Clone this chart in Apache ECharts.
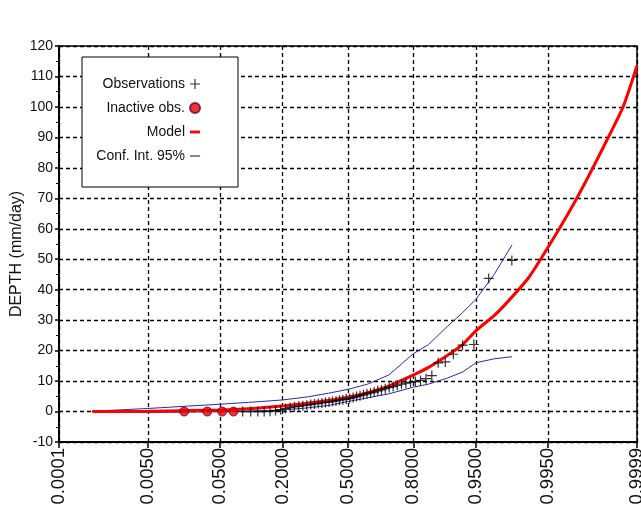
<!DOCTYPE html>
<html><head><meta charset="utf-8">
<script src="https://cdn.jsdelivr.net/npm/echarts@6/dist/echarts.min.js"></script>
<style>html,body{margin:0;padding:0;background:#fff}#c{width:641px;height:513px}</style>
</head><body><div id="c"></div>
<script>
// ---- data ----
const tickProbs  = [0.0001, 0.005, 0.05, 0.2, 0.5, 0.8, 0.95, 0.995, 0.9999];
const tickLabels = ['0.0001','0.0050','0.0500','0.2000','0.5000','0.8000','0.9500','0.9950','0.9999'];

const inactiveProb  = [0.0175, 0.0351, 0.0526, 0.0702];
const inactiveDepth = [0, 0, 0, 0];

const obsProb = [0.0877,0.1053,0.1228,0.1404,0.1579,0.1754,0.1930,0.2105,0.2281,0.2456,
                 0.2632,0.2807,0.2982,0.3158,0.3333,0.3509,0.3684,0.3860,0.4035,0.4211,
                 0.4386,0.4561,0.4737,0.4912,0.5088,0.5263,0.5439,0.5614,0.5789,0.5965,
                 0.6140,0.6316,0.6491,0.6667,0.6842,0.7018,0.7193,0.7368,0.7544,0.7719,
                 0.7895,0.8070,0.8246,0.8421,0.8596,0.8772,0.8947,0.9123,0.9298,0.9474,
                 0.9649,0.9825];
const obsDepth = [0.0,0.0,0.0,0.0,0.1,0.3,0.6,1.0,1.3,1.5,
                  1.7,1.9,2.1,2.3,2.5,2.6,2.8,3.0,3.1,3.3,
                  3.5,3.7,3.9,4.1,4.3,4.6,4.9,5.2,5.5,5.8,
                  6.1,6.4,6.8,7.1,7.5,7.9,8.2,8.6,9.0,9.3,
                  9.6,9.9,10.2,10.8,11.8,16.0,16.3,18.8,21.8,22.0,
                  43.7,49.6];

const modelProb  = [0.0005,0.005,0.02,0.05,0.1,0.2,0.3,0.4,0.5,0.6,0.7,0.8,0.85,0.9,0.93,0.95,0.97,0.98,0.99,0.995,0.998,0.999,0.9995,0.9998,0.9999];
const modelDepth = [0.0,0.1,0.3,0.5,0.9,1.8,2.7,3.6,4.7,6.2,8.3,12.0,14.5,18.5,22.0,26.5,31.5,36.0,44.0,54.0,67.0,77.0,87.0,100.0,113.5];

const ciProb  = [0.0005,0.005,0.02,0.05,0.1,0.2,0.3,0.4,0.5,0.6,0.7,0.8,0.85,0.9,0.93,0.95,0.97,0.9826];
const ciUpper = [0.1,1.0,1.8,2.4,3.0,3.8,4.8,6.0,7.3,9.0,12.0,19.0,22.0,28.0,32.5,36.8,45.0,54.7];
const ciLower = [0.0,-0.3,-0.2,0.0,0.2,0.5,1.2,2.0,3.3,4.5,5.8,8.0,9.0,11.0,13.0,16.0,17.3,18.0];

// ---- normal probability scale (axis transform) ----
function probit(p){
  const a=[-3.969683028665376e+01,2.209460984245205e+02,-2.759285104469687e+02,1.383577518672690e+02,-3.066479806614716e+01,2.506628277459239e+00];
  const b=[-5.447609879822406e+01,1.615858368580409e+02,-1.556989798598866e+02,6.680131188771972e+01,-1.328068155288572e+01];
  const c=[-7.784894002430293e-03,-3.223964580411365e-01,-2.400758277161838e+00,-2.549732539343734e+00,4.374664141464968e+00,2.938163982698783e+00];
  const d=[7.784695709041462e-03,3.224671290700398e-01,2.445134137142996e+00,3.754408661907416e+00];
  const pl=0.02425;
  let q,r;
  if(p<pl){q=Math.sqrt(-2*Math.log(p));return (((((c[0]*q+c[1])*q+c[2])*q+c[3])*q+c[4])*q+c[5])/((((d[0]*q+d[1])*q+d[2])*q+d[3])*q+1);}
  if(p<=1-pl){q=p-0.5;r=q*q;return (((((a[0]*r+a[1])*r+a[2])*r+a[3])*r+a[4])*r+a[5])*q/(((((b[0]*r+b[1])*r+b[2])*r+b[3])*r+b[4])*r+1);}
  q=Math.sqrt(-2*Math.log(1-p));return -(((((c[0]*q+c[1])*q+c[2])*q+c[3])*q+c[4])*q+c[5])/((((d[0]*q+d[1])*q+d[2])*q+d[3])*q+1);
}
const pairs=(ps,vs)=>ps.map((p,i)=>[probit(p),vs[i]]);
const tickZ = tickProbs.map(probit);
function labelFor(v){
  let best=0,bd=Infinity;
  tickZ.forEach((z,i)=>{const dd=Math.abs(z-v); if(dd<bd){bd=dd;best=i;}});
  return tickLabels[best];
}

const FONT='Liberation Sans, Arial, sans-serif';
const plusIcon='path://M4.4,0H5.6V4.4H10V5.6H5.6V10H4.4V5.6H0V4.4H4.4Z';
const modelIcon='path://M0,0M0,3.6H10V6.4H0ZM10,10';
const ciIcon='path://M0,0M0,4.4H10V5.6H0ZM10,10';
const dash={type:[4,3],color:'#000',width:1.3};

const chart=echarts.init(document.getElementById('c'),null,{renderer:'canvas'});
chart.setOption({
  animation:false,
  backgroundColor:'#fff',
  grid:{left:59,right:4,top:46,bottom:71,containLabel:false,outerBoundsMode:'none',show:true,borderColor:'#000',borderWidth:1.5,backgroundColor:'transparent'},
  legend:{
    left:82, top:57, orient:'vertical', align:'right',
    padding:[19,37,23,13], itemGap:8, itemWidth:10, itemHeight:10,
    backgroundColor:'#fff', borderColor:'#000', borderWidth:1,
    textStyle:{fontFamily:FONT,fontSize:14,lineHeight:16,color:'#111',width:90},
    data:[{name:'Observations',icon:plusIcon},{name:'Inactive obs.',icon:'circle'},{name:'Model',icon:modelIcon},{name:'Conf. Int. 95%',icon:ciIcon}]
  },
  xAxis:{
    type:'value', min:probit(0.0001), max:probit(0.9999),
    axisLine:{onZero:false,lineStyle:{color:'#000',width:2}},
    axisTick:{show:true,length:6,customValues:tickZ,lineStyle:{color:'#000',width:1.5}},
    axisLabel:{customValues:tickZ,rotate:90,margin:6,fontFamily:FONT,fontSize:18.5,color:'#111',formatter:labelFor,showMinLabel:true,showMaxLabel:true},
    splitLine:{show:true,customValues:tickZ,lineStyle:dash}
  },
  yAxis:{
    type:'value', min:-10, max:120, interval:10,
    name:'DEPTH (mm/day)', nameLocation:'middle', nameGap:34, nameMoveOverlap:false,
    nameTextStyle:{fontFamily:FONT,fontSize:16,color:'#111',padding:[0,20,0,0]},
    axisLine:{onZero:false,lineStyle:{color:'#000',width:2}},
    axisTick:{length:4,lineStyle:{color:'#000',width:1.5}},
    minorTick:{show:true,splitNumber:2,length:3,lineStyle:{color:'#000'}},
    axisLabel:{fontFamily:FONT,fontSize:14,color:'#111',margin:6},
    splitLine:{show:true,lineStyle:dash}
  },
  series:[
    {name:'Conf. Int. 95%',type:'line',data:pairs(ciProb,ciUpper),symbol:'none',lineStyle:{color:'#2a2aa8',width:1},itemStyle:{color:'#2a2aa8'},z:2},
    {name:'Conf. Int. 95%',type:'line',data:pairs(ciProb,ciLower),symbol:'none',lineStyle:{color:'#2a2aa8',width:1},itemStyle:{color:'#2a2aa8'},z:2},
    {name:'Model',type:'line',data:pairs(modelProb,modelDepth),symbol:'none',smooth:0.2,lineStyle:{color:'#ff0000',width:3},itemStyle:{color:'#ff0000'},z:3},
    {name:'Observations',type:'scatter',data:pairs(obsProb,obsDepth),symbol:plusIcon,symbolSize:10,itemStyle:{color:'#000'},z:4},
    {name:'Inactive obs.',type:'scatter',data:pairs(inactiveProb,inactiveDepth),symbol:'circle',symbolSize:9,itemStyle:{color:'#ee0000',borderColor:'#6a0030',borderWidth:1},z:5}
  ]
});
</script></body></html>
